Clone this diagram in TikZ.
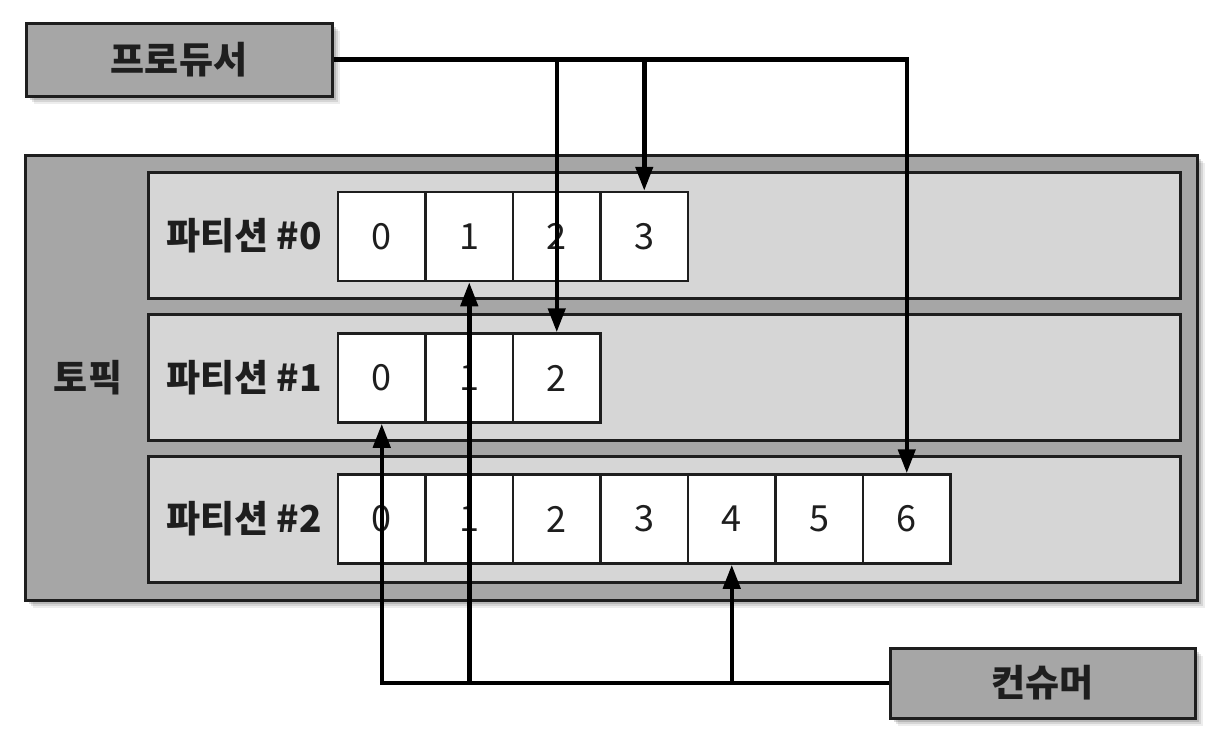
\documentclass[tikz,border=0pt]{standalone}
\usepackage{fontspec}
\setmainfont{Noto Sans CJK KR}
\usetikzlibrary{shadows,arrows.meta}
\definecolor{darkbox}{HTML}{A6A6A6}
\definecolor{lightrow}{HTML}{D6D6D6}
\definecolor{inkc}{HTML}{1E1E1E}
\tikzset{
  softshadow/.style={
    drop shadow={shadow xshift=8pt,shadow yshift=-8pt,opacity=0.07,fill=black},
    drop shadow={shadow xshift=6pt,shadow yshift=-6pt,opacity=0.10,fill=black},
    drop shadow={shadow xshift=4pt,shadow yshift=-4pt,opacity=0.14,fill=black}},
  actor/.style={draw=inkc,line width=3pt,fill=darkbox,softshadow,inner sep=0pt,
    font=\fontsize{37}{40}\selectfont\bfseries,text=inkc},
  topicbox/.style={draw=inkc,line width=3pt,fill=darkbox,softshadow,inner sep=0pt,
    minimum width=1172pt,minimum height=445pt},
  rowbox/.style={draw=inkc,line width=3pt,fill=lightrow,inner sep=0pt,
    minimum width=1032pt,minimum height=126pt},
  cell/.style={draw=inkc,line width=2.5pt,fill=white,inner sep=0pt,
    minimum width=87.5pt,minimum height=89pt,font=\fontsize{36}{38}\selectfont,text=inkc},
  plabel/.style={font=\fontsize{37}{40}\selectfont\bfseries,text=inkc,inner sep=0pt},
  conn/.style={draw=black,line width=4.5pt,miter limit=10,
    -{Triangle[length=24pt,width=17pt]}}
}
\begin{document}
\begin{tikzpicture}[x=1pt,y=-1pt]
\path[use as bounding box] (0,0) rectangle (1218,742);
% producer and consumer
\node[actor,minimum width=306pt,minimum height=73pt] (prod) at (179,59.5) {프로듀서};
\node[actor,minimum width=305pt,minimum height=70pt] (cons) at (1042.5,683) {컨슈머};
% topic
\node[topicbox] (topic) at (611,377.5) {};
\node[plabel] (tlabel) at (88,378) {토픽};
% rows
\node[rowbox] (r0) at (664,235) {};
\node[rowbox] (r1) at (664,377) {};
\node[rowbox] (r2) at (664,519.5) {};
\node[plabel] (l0) at (244,236) {파티션 \#0};
\node[plabel] (l1) at (244,378) {파티션 \#1};
\node[plabel] (l2) at (244,519) {파티션 \#2};
% cells
\foreach \i in {0,...,3}{\node[cell] (c0-\i) at ({381.75+87.5*\i},236.5) {\i};}
\foreach \i in {0,...,2}{\node[cell] (c1-\i) at ({381.75+87.5*\i},378) {\i};}
\foreach \i in {0,...,6}{\node[cell] (c2-\i) at ({381.75+87.5*\i},519) {\i};}
% producer connectors
\draw[conn] (prod.east) -| (c2-6.north);
\draw[conn] (c1-2.north |- prod.east) -- (c1-2.north);
\draw[conn] (c0-3.north |- prod.east) -- (c0-3.north);
% consumer connectors
\draw[conn] (cons.west) -| (c1-0.south);
\draw[conn] (c0-1.south |- cons.west) -- (c0-1.south);
\draw[conn] (c2-4.south |- cons.west) -- (c2-4.south);
\end{tikzpicture}
\end{document}
